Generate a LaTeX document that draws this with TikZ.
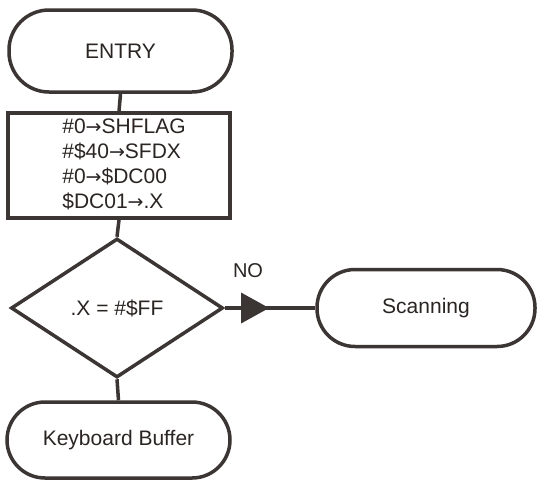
\documentclass[tikz,border=0pt]{standalone}
\usepackage{fontspec}
\setmainfont{Liberation Sans}
\newfontfamily\symfont{DejaVu Sans}
\usetikzlibrary{shapes.geometric,arrows.meta,decorations.markings}
\definecolor{ink}{HTML}{3B3533}
\definecolor{txt}{HTML}{2A2523}
% mid-height arrow used in the assignment lines
\newcommand{\assign}{{\symfont\fontsize{19}{19}\selectfont →}}
\tikzset{
  base/.style={draw=ink, line width=3.5pt, text=txt, inner sep=0pt,
    font=\fontsize{21}{25}\selectfont},
  terminal/.style={base, rectangle, rounded corners=#1},
  procbox/.style={base, rectangle},
  decision/.style={base, diamond, aspect=1.5},
  link/.style={draw=ink, line width=3.5pt},
}
\begin{document}
\begin{tikzpicture}[x=1pt, y=-1pt]
  \useasboundingbox (0,0) rectangle (537,480);
  \fill[white] (0,0) rectangle (537,480);

  \node[terminal=40pt, minimum width=223pt, minimum height=82pt] (entry) at (120.5,51) {ENTRY};

  \node[procbox, minimum width=222pt, minimum height=105pt] (init) at (119,165.5)
    {\begin{tabular}{@{\hspace{10pt}}l@{}}
       \#0\assign SHFLAG\\
       \#\$40\assign SFDX\\
       \#0\assign\$DC00\\
       \$DC01\assign.X
     \end{tabular}};

  \node[decision, minimum width=212pt, minimum height=139pt] (test) at (117,308)
    {.X = \#\$FF};

  \node[terminal=38pt, minimum width=218pt, minimum height=77pt] (scan) at (426,308)
    {Scanning};

  \node[terminal=38pt, minimum width=223pt, minimum height=76pt] (kbd) at (118.5,440)
    {Keyboard Buffer};

  \draw[link] (entry.south) -- (init.north);
  \draw[link] (init.south) -- (test.north);
  \draw[link] (test.south) -- (kbd.north);
  \draw[link, postaction={decorate}, decoration={markings,
      mark=at position 0.49 with {\arrow{Triangle[length=28pt,width=30pt]}}}]
    (test.east) -- (scan.west);

  \node[text=txt, font=\fontsize{20}{22}\selectfont] (no) at (248,271) {NO};
\end{tikzpicture}
\end{document}
